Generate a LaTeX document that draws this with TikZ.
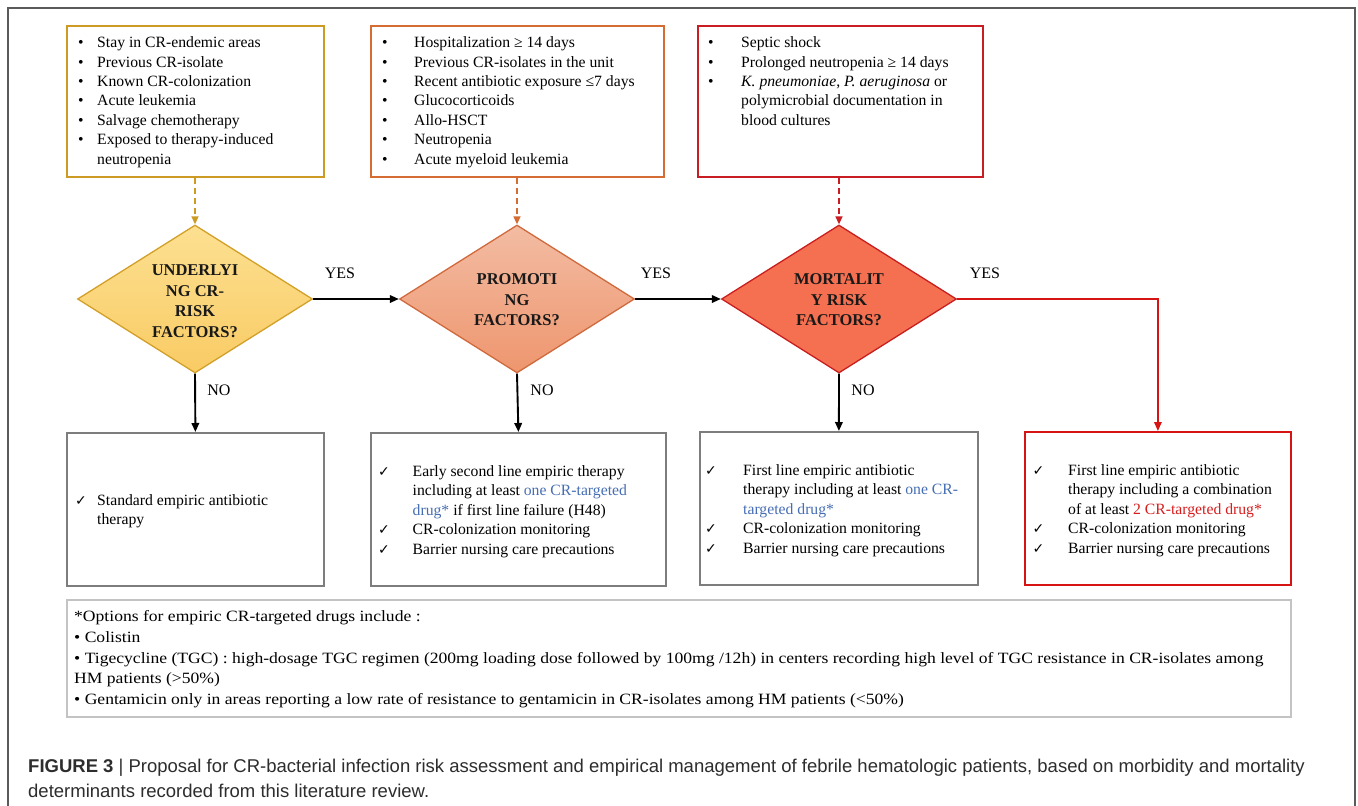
\documentclass[tikz,border=0pt]{standalone}
\usepackage{fontspec}
\setmainfont{Liberation Serif}
\setsansfont{Liberation Sans}
\newfontfamily\dejavu{DejaVu Sans}
\newfontfamily\fnfont[FakeStretch=1.12]{Liberation Serif}
\usepackage{array}
\usetikzlibrary{shapes.geometric,arrows.meta,calc}
\definecolor{goldc}{RGB}{205,155,35}
\definecolor{orangec}{RGB}{212,108,52}
\definecolor{redc}{RGB}{200,30,35}
\definecolor{grayb}{RGB}{125,125,125}
\definecolor{lightb}{RGB}{195,195,195}
\definecolor{frameb}{RGB}{90,90,90}
\definecolor{bluet}{RGB}{70,110,180}
\definecolor{redt}{RGB}{215,30,30}
\definecolor{redbox}{RGB}{215,20,20}
\definecolor{dAtop}{RGB}{252,224,145}
\definecolor{dAbot}{RGB}{249,203,100}
\definecolor{dAdraw}{RGB}{210,160,40}
\definecolor{dBtop}{RGB}{243,188,163}
\definecolor{dBbot}{RGB}{238,150,110}
\definecolor{dBdraw}{RGB}{208,105,60}
\definecolor{dCfill}{RGB}{245,112,80}
\definecolor{dCdraw}{RGB}{200,30,30}
\definecolor{captc}{RGB}{45,45,45}
\newcommand{\ck}{{\dejavu\fontsize{14}{14}\selectfont ✓}}
\begin{document}
\begin{tikzpicture}[x=1pt,y=-1pt,
  boxn/.style={rectangle, anchor=north west, inner sep=0pt, line width=1.5pt},
  txt/.style={inner sep=0pt, font=\fontsize{15.7}{19.4}\selectfont, align=left},
  dia/.style={diamond, inner sep=0pt, minimum width=235pt, minimum height=148pt, line width=1.3pt},
  dtxt/.style={inner sep=0pt, align=center, font=\fontsize{16.5}{20.5}\selectfont\bfseries, text=black!90},
  lbl/.style={inner sep=0pt, font=\fontsize{16}{16}\selectfont},
  arr/.style={line width=1.9pt, -{Triangle[length=9pt,width=7.5pt]}},
  darr/.style={line width=1.5pt, dash pattern=on 6pt off 4pt, -{Triangle[length=8pt,width=7pt]}},
]
\useasboundingbox (0,0) rectangle (1358,806);
\fill[white] (0,0) rectangle (1358,806);
\draw[frameb, line width=1.3pt] (8,806) -- (8,8) -- (1355,8) -- (1355,806);

% top boxes
\node[boxn, draw=goldc, minimum width=257pt, minimum height=151pt] (t1) at (66,25) {};
\node[boxn, draw=orangec, minimum width=293pt, minimum height=151pt] (t2) at (370,25) {};
\node[boxn, draw=redc, minimum width=285pt, minimum height=151pt] (t3) at (697,25) {};

\node[txt, anchor=north west] (t1x) at ($(t1.north west)+(12,9)$) {%
\begin{tabular}{@{}p{19pt}@{}l@{}}
•& Stay in CR-endemic areas\\
•& Previous CR-isolate\\
•& Known CR-colonization\\
•& Acute leukemia\\
•& Salvage chemotherapy\\
•& Exposed to therapy-induced\\
 & neutropenia
\end{tabular}};
\node[txt, anchor=north west] (t2x) at ($(t2.north west)+(12,9)$) {%
\begin{tabular}{@{}p{32pt}@{}l@{}}
•& Hospitalization ≥ 14 days\\
•& Previous CR-isolates in the unit\\
•& Recent antibiotic exposure ≤7 days\\
•& Glucocorticoids\\
•& Allo-HSCT\\
•& Neutropenia\\
•& Acute myeloid leukemia
\end{tabular}};
\node[txt, anchor=north west] (t3x) at ($(t3.north west)+(11,9)$) {%
\begin{tabular}{@{}p{33pt}@{}l@{}}
•& Septic shock\\
•& Prolonged neutropenia ≥ 14 days\\
•& \textit{K. pneumoniae}, \textit{P. aeruginosa} or\\
 & polymicrobial documentation in\\
 & blood cultures
\end{tabular}};

% diamonds
\node[dia, draw=dAdraw, top color=dAtop, bottom color=dAbot] (d1) at (195,299) {};
\node[dia, draw=dBdraw, top color=dBtop, bottom color=dBbot] (d2) at (517,299) {};
\node[dia, draw=dCdraw, fill=dCfill] (d3) at (839,299) {};
\node[dtxt] (d1t) at (195,301) {UNDERLYI\\NG CR-\\RISK\\FACTORS?};
\node[dtxt] (d2t) at (517,300) {PROMOTI\\NG\\FACTORS?};
\node[dtxt] (d3t) at (839,300) {MORTALIT\\Y RISK\\FACTORS?};

% dashed arrows
\draw[darr, goldc] (d1.north |- t1.south) -- (d1.north);
\draw[darr, orangec] (d2.north |- t2.south) -- (d2.north);
\draw[darr, redc] (d3.north |- t3.south) -- (d3.north);

% bottom boxes
\node[boxn, draw=grayb, line width=1.8pt, minimum width=257pt, minimum height=153pt] (b1) at (66,432) {};
\node[boxn, draw=grayb, line width=1.8pt, minimum width=295pt, minimum height=153pt] (b2) at (370,432) {};
\node[boxn, draw=grayb, line width=1.8pt, minimum width=278pt, minimum height=153pt] (b3) at (699,431) {};
\node[boxn, draw=redbox, line width=1.8pt, minimum width=266pt, minimum height=153pt] (b4) at (1024,431) {};

\node[txt, anchor=west] (b1x) at ($(b1.west)+(9,2)$) {%
\begin{tabular}{@{}p{22pt}@{}l@{}}
\ck& Standard empiric antibiotic\\
 & therapy
\end{tabular}};
\node[txt, anchor=west] (b2x) at ($(b2.west)+(8,2)$) {%
\begin{tabular}{@{}p{34.5pt}@{}l@{}}
\ck& Early second line empiric therapy\\
 & including at least \textcolor{bluet}{one CR-targeted}\\
 & \textcolor{bluet}{drug*} if first line failure (H48)\\
\ck& CR-colonization monitoring\\
\ck& Barrier nursing care precautions
\end{tabular}};
\node[txt, anchor=west] (b3x) at ($(b3.west)+(6,2)$) {%
\begin{tabular}{@{}p{38pt}@{}l@{}}
\ck& First line empiric antibiotic\\
 & therapy including at least \textcolor{bluet}{one CR-}\\
 & \textcolor{bluet}{targeted drug*}\\
\ck& CR-colonization monitoring\\
\ck& Barrier nursing care precautions
\end{tabular}};
\node[txt, anchor=west] (b4x) at ($(b4.west)+(8.5,2)$) {%
\begin{tabular}{@{}p{35.5pt}@{}l@{}}
\ck& First line empiric antibiotic\\
 & therapy including a combination\\
 & of at least \textcolor{redt}{2 CR-targeted drug*}\\
\ck& CR-colonization monitoring\\
\ck& Barrier nursing care precautions
\end{tabular}};

% main connectors
\draw[arr] (d1.east) -- (d2.west);
\draw[arr] (d2.east) -- (d3.west);
\draw[arr, redbox, line width=1.5pt] (d3.east) -| (b4.north);
\draw[arr] (d1.south) -- (b1.north);
\draw[arr] (d2.south) -- (b2.north);
\draw[arr] (d3.south) -- (b3.north);

% labels
\node[lbl] (y1) at (340,273) {YES};
\node[lbl] (y2) at (656,273) {YES};
\node[lbl] (y3) at (985,273) {YES};
\node[lbl] (n1) at (219,390) {NO};
\node[lbl] (n2) at (542,390) {NO};
\node[lbl] (n3) at (863,390) {NO};

% footnote box
\node[boxn, draw=lightb, line width=1.8pt, minimum width=1224pt, minimum height=117pt] (fn) at (66,599) {};
\node[txt, anchor=north west, font=\fnfont\fontsize{15.7}{20.7}\selectfont] (fnx) at ($(fn.north west)+(8,8)$) {%
\begin{tabular}{@{}l@{}}
*Options for empiric CR-targeted drugs include :\\
• Colistin\\
• Tigecycline (TGC) : high-dosage TGC regimen (200mg loading dose followed by 100mg /12h) in centers recording high level of TGC resistance in CR-isolates among\\
HM patients (>50\%)\\
• Gentamicin only in areas reporting a low rate of resistance to gentamicin in CR-isolates among HM patients (<50\%)
\end{tabular}};

% caption
\node[anchor=north west, inner sep=0pt, align=left, text=captc, font=\sffamily\fontsize{18.5}{25}\selectfont] (cap) at (28,759) {%
{\bfseries FIGURE 3} \textbar{} Proposal for CR-bacterial infection risk assessment and empirical management of febrile hematologic patients, based on morbidity and mortality\\
determinants recorded from this literature review.};
\end{tikzpicture}
\end{document}
